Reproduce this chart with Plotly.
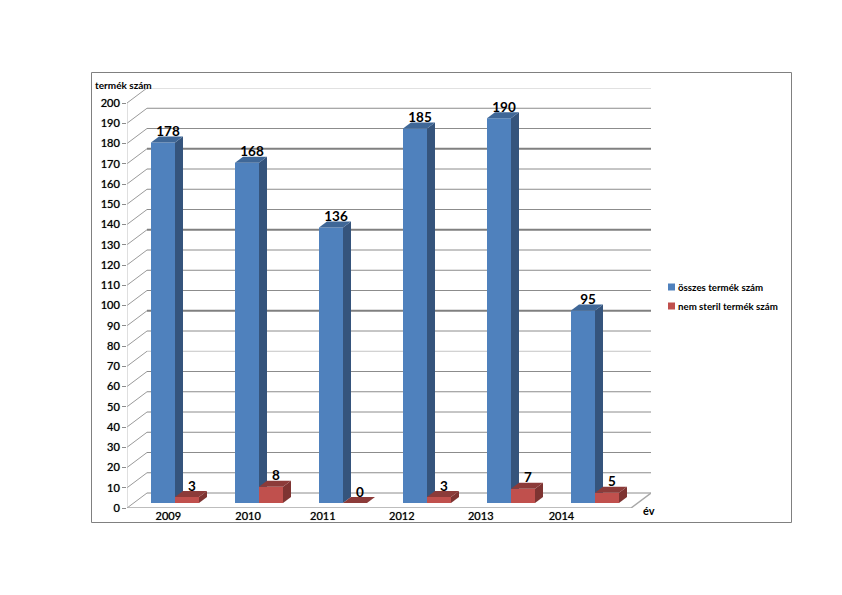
import plotly.graph_objects as go

W, H = 842, 595
years = ["2009", "2010", "2011", "2012", "2013", "2014"]
osszes = [178, 168, 136, 185, 190, 95]
nem_steril = [3, 8, 0, 3, 7, 5]
axis_ticks = list(range(0, 201, 10))
heavy_grid = [90, 130, 170]
light_grid = [70, 200]
label_pos = [-0.08, 0.87, 1.76, 2.70, 3.64, 4.60]

BLUE, BLUE_SIDE, BLUE_TOP = "#4F81BD", "#35547C", "#3F6797"
RED, RED_SIDE, RED_TOP = "#C0504D", "#7E3432", "#8C3B39"
FONT = "Lato"
DARKEN = "0 0 0.7px rgba(0,0,0,0.7)"

# pixel layout helpers
PX0, PX1, PY0, PY1 = 127, 651, 88, 508
SCALE_Y = 2.025
X_UNIT = 84.0
x_range = [(PX0 - 175) / X_UNIT, (PX1 - 175) / X_UNIT]
y_range = [0, (PY1 - PY0) / SCALE_Y]
BACK = 15 / SCALE_Y
FLOOR = 5 / SCALE_Y
DX = 8 / X_UNIT
DY = 6 / SCALE_Y
BW = 24 / X_UNIT
WALL = 20 / X_UNIT
LABEL_DROP = 3 / SCALE_Y
x0, x1 = x_range
idx = list(range(len(years)))

fig = go.Figure()

# back wall (lower subplot)
for t in axis_ticks:
    col, wd = "#8C8C8C", 1
    if t in heavy_grid:
        col, wd = "#808080", 2
    if t in light_grid:
        col, wd = "#C4C4C4", 1
    fig.add_trace(go.Scatter(x=[x0, x0 + WALL], y=[t, t + BACK], mode="lines",
                             line=dict(color="#9A9A9A", width=1), hoverinfo="skip", showlegend=False))
    fig.add_trace(go.Scatter(x=[x0 + WALL, x1], y=[t + BACK, t + BACK], mode="lines",
                             line=dict(color=col, width=wd), hoverinfo="skip", showlegend=False))
fig.add_trace(go.Scatter(x=[x0, x0], y=[0, 200], mode="lines",
                         line=dict(color="#C0C0C0", width=1), hoverinfo="skip", showlegend=False))
fig.add_trace(go.Scatter(x=[x0, x1 - WALL, x1], y=[0, 0, BACK], mode="lines",
                         line=dict(color="#A8A8A8", width=1.5), hoverinfo="skip", showlegend=False, cliponaxis=False))

# bars: each series on its own overlay so the red front covers the blue side face
series = [("összes termék szám", osszes, -BW / 2, BLUE, BLUE_SIDE, BLUE_TOP, "x2", "y2"),
          ("nem steril termék szám", nem_steril, BW / 2, RED, RED_SIDE, RED_TOP, "x3", "y3")]
for name, vals, off, c, cs, ct, xa, ya in series:
    xs = [i + off for i in idx]
    fig.add_trace(go.Bar(x=xs, y=vals, base=[FLOOR] * len(vals), width=BW, name=name,
                         marker=dict(color=c, line=dict(width=0)), xaxis=xa, yaxis=ya,
                         showlegend=False, cliponaxis=False))
    for xc, v in zip(xs, vals):
        r, l, top = xc + BW / 2, xc - BW / 2, v + FLOOR
        fig.add_trace(go.Scatter(x=[r, r + DX, r + DX, r, r], y=[FLOOR, FLOOR + DY, top + DY, top, FLOOR],
                                 mode="lines", fill="toself", fillcolor=cs, line=dict(width=0),
                                 xaxis=xa, yaxis=ya, hoverinfo="skip", showlegend=False))
        fig.add_trace(go.Scatter(x=[l, r, r + DX, l + DX, l], y=[top, top, top + DY, top + DY, top],
                                 mode="lines", fill="toself", fillcolor=ct, line=dict(width=0),
                                 xaxis=xa, yaxis=ya, hoverinfo="skip", showlegend=False))
    fig.add_trace(go.Scatter(x=[x + DX / 2 + 1 / X_UNIT for x in xs],
                             y=[v + FLOOR + DY - LABEL_DROP for v in vals],
                             mode="text", text=[str(v) for v in vals], textposition="top center",
                             textfont=dict(family=FONT, size=13.5, color="black", weight="bold"),
                             xaxis=xa, yaxis=ya, hoverinfo="skip", showlegend=False, cliponaxis=False))

def px(v): return v / W
def py(v): return 1 - v / H

dom_x = [px(PX0), px(PX1)]
dom_y = [py(PY1), py(PY0)]
hidden = dict(visible=False, fixedrange=True)
tick_font = dict(family=FONT, size=11, color="black", shadow=DARKEN)
fig.update_layout(
    width=W, height=H, autosize=False, margin=dict(l=0, r=0, t=0, b=0, pad=0, autoexpand=False), showlegend=False,
    paper_bgcolor="white", plot_bgcolor="rgba(0,0,0,0)",
    xaxis=dict(domain=dom_x, range=x_range, **hidden),
    yaxis=dict(domain=dom_y, range=y_range, **hidden),
    xaxis2=dict(domain=dom_x, range=x_range, overlaying="x", anchor="y2", tickmode="array",
                tickvals=label_pos, ticktext=years, ticks="", showgrid=False, zeroline=False,
                showline=False, tickfont=tick_font),
    yaxis2=dict(domain=dom_y, range=y_range, overlaying="y", anchor="x2", tickmode="array",
                tickvals=axis_ticks, ticks="outside", ticklen=4, tickcolor="#8C8C8C", showgrid=False,
                zeroline=False, showline=False, tickfont=tick_font),
    xaxis3=dict(domain=dom_x, range=x_range, overlaying="x", anchor="y3", **hidden),
    yaxis3=dict(domain=dom_y, range=y_range, overlaying="y", anchor="x3", **hidden),
    shapes=[dict(type="rect", xref="paper", yref="paper", x0=px(91.5), x1=px(791.5), y0=py(522.5), y1=py(72.5),
                 line=dict(color="#808080", width=1), fillcolor="rgba(0,0,0,0)"),
            dict(type="rect", xref="paper", yref="paper", x0=px(668), x1=px(675), y0=py(290.5), y1=py(283.5),
                 line=dict(width=0), fillcolor=BLUE),
            dict(type="rect", xref="paper", yref="paper", x0=px(668), x1=px(675), y0=py(309.5), y1=py(302.5),
                 line=dict(width=0), fillcolor=RED)],
    annotations=[
        dict(text=t, x=px(xx), y=py(yy), xref="paper", yref="paper", xanchor=a, yanchor="middle", showarrow=False,
             font=dict(family=FONT, size=s, color="black", weight=w))
        for t, xx, yy, a, s, w in [
            ("termék szám", 93, 85, "left", 10, "bold"),
            ("év", 649, 510, "center", 11, "bold"),
            ("összes termék szám", 676, 287, "left", 9.7, "bold"),
            ("nem steril termék szám", 676, 306, "left", 9.7, "bold"),
        ]],
)
fig.write_html("out.html", config={"displayModeBar": False}, post_script="document.body.style.margin='0';")
